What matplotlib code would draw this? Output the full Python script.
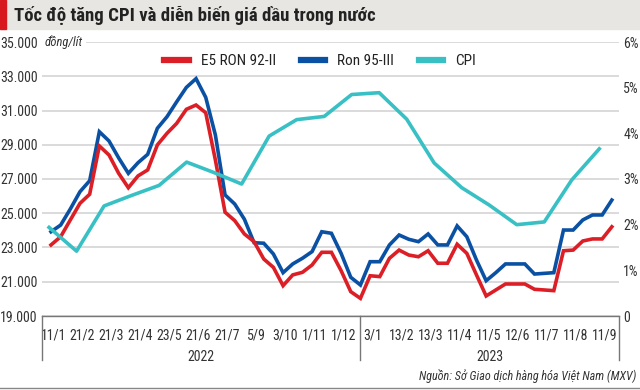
import matplotlib
matplotlib.use('Agg')
import matplotlib.pyplot as plt
from matplotlib import font_manager
from matplotlib.patches import Rectangle
import numpy as np

# tìm một font hẹp (condensed / narrow) nếu có
entries = font_manager.fontManager.ttflist
narrow = {}
for f in entries:
    st = str(f.stretch)
    if 'condensed' in st or 'Narrow' in f.name or 'Condensed' in f.name:
        narrow.setdefault(f.name, set()).add(st)
base, cond = None, False
for pref in ['Liberation Sans Narrow', 'Roboto Condensed', 'Open Sans Condensed',
             'Noto Sans', 'Open Sans', 'Roboto', 'DejaVu Sans Condensed', 'DejaVu Sans']:
    if pref in narrow:
        base = pref
        cond = any('condensed' in s for s in narrow[pref])
        break
if base is None and narrow:
    base = sorted(narrow)[0]
    cond = any('condensed' in s for s in narrow[base])
if base is None:
    base = 'Roboto'
    fs = 8.5
else:
    fs = 10
plt.rcParams['font.family'] = [base, 'DejaVu Sans']
if cond:
    plt.rcParams['font.stretch'] = 'condensed'

# dữ liệu
x_labels = ['11/1', '21/2', '21/3', '21/4', '23/5', '21/6', '21/7', '5/9', '3/10', '1/11',
            '1/12', '3/1', '13/2', '13/3', '11/4', '11/5', '12/6', '11/7', '11/8', '11/9']
years = ['2022', '2023']

ron95 = [23920, 24310, 25250, 26260, 26900, 29760, 29220, 28230, 27330, 27950,
         28440, 29960, 30640, 31510, 32350, 32860, 31770, 29570, 26070, 25540,
         24650, 23280, 23250, 22620, 21530, 22040, 22370, 22760, 23920, 23830,
         22660, 21260, 20810, 22170, 22170, 23150, 23730, 23480, 23340, 23790,
         23150, 23150, 24260, 23630, 22270, 21060, 21530, 22040, 22040, 22040,
         21450, 21490, 21530, 24020, 24020, 24610, 24900, 24900, 25770]
e5ron92 = [23150, 23630, 24610, 25580, 26110, 28930, 28400, 27330, 26490, 27180,
           27530, 28990, 29670, 30250, 31070, 31320, 30870, 28110, 25060, 24570,
           23790, 23340, 22330, 21840, 20770, 21400, 21550, 21980, 22720, 22720,
           21650, 20420, 20030, 21350, 21300, 22370, 22850, 22560, 22460, 22810,
           22080, 22080, 23190, 22660, 21400, 20170, 20520, 20870, 20870, 20870,
           20560, 20520, 20480, 22810, 22850, 23380, 23500, 23500, 24210]
cpi = [1.94, 1.42, 2.41, 2.64, 2.86, 3.37, 3.14, 2.89, 3.94, 4.30, 4.37,
       4.85, 4.89, 4.31, 3.35, 2.81, 2.43, 2.00, 2.06, 2.98, 3.66]

red = '#dc1f26'
blue = '#0b51a3'
cyan = '#38c0c4'
grey_txt = '#333333'

fig = plt.figure(figsize=(6.4, 3.9), dpi=100)
fig.patches.append(Rectangle((0, 1 - 29 / 390), 1, 29 / 390, transform=fig.transFigure,
                             color='#e8e6e3', zorder=0))
fig.patches.append(Rectangle((0, 1 - 29 / 390), 6 / 640, 29 / 390, transform=fig.transFigure,
                             color='#d7191f', zorder=1))
fig.text(14 / 640, 1 - 15 / 390, 'Tốc độ tăng CPI và diễn biến giá dầu trong nước',
         fontsize=fs + 3.5, fontweight='bold', va='center', ha='left', color='#222222')

ax = fig.add_axes([42 / 640, 1 - 316 / 390, 577 / 640, 274 / 390])
ax2 = ax.twinx()

xi = np.arange(len(ron95))
xc = np.linspace(-0.2, 56.7, len(cpi))

ax.plot(xi, ron95, color=blue, lw=2.6, label='Ron 95-III', solid_joinstyle='miter')
ax.plot(xi, e5ron92, color=red, lw=2.6, label='E5 RON 92-II', solid_joinstyle='miter')
ax2.plot(xc, cpi, color=cyan, lw=2.6, label='CPI')

ax.set_xlim(-0.93, 58.74)
ax.set_ylim(19000, 35000)
ax2.set_ylim(0, 6)

yt = np.arange(19000, 35001, 2000)
ax.set_yticks(yt)
ax.set_yticklabels([f'{v:,}'.replace(',', '.') for v in yt])
for v in yt:
    ax.axhline(v, color='#d4d4d4', lw=1.2, zorder=0)
ax.text(0.004, 35000, 'đồng/lít', transform=ax.get_yaxis_transform(), fontsize=fs - 1,
        style='italic', va='center', ha='left', color=grey_txt,
        bbox=dict(facecolor='white', edgecolor='none', pad=2.5))

ax2.set_yticks(range(7))
ax2.set_yticklabels(['0', '1%', '2%', '3%', '4%', '5%', '6%'])

ax.set_xticks(np.arange(len(x_labels)) * 3 + 0.25)
ax.set_xticklabels(x_labels)

for a in (ax, ax2):
    for s in ('top', 'left', 'right', 'bottom'):
        a.spines[s].set_visible(False)
    a.tick_params(length=0, labelsize=fs, colors=grey_txt)
ax.tick_params(axis='y', pad=3)
ax2.tick_params(axis='y', pad=3)
ax.tick_params(axis='x', pad=9)
ax.spines['bottom'].set_visible(True)
ax.spines['bottom'].set_color('#777777')
ax.spines['bottom'].set_linewidth(1)

# vạch ngăn năm
sep = 31.95
tr = ax.get_xaxis_transform()
for xv in (-0.93, sep, 58.74):
    ax.plot([xv, xv], [0, -0.16], transform=tr, color='#777777', lw=1, clip_on=False)
ax.text((-0.93 + sep) / 2, -0.15, years[0], transform=tr, ha='center', va='center',
        fontsize=fs, color=grey_txt)
ax.text((sep + 58.74) / 2, -0.15, years[1], transform=tr, ha='center', va='center',
        fontsize=fs, color=grey_txt)

h1, l1 = ax.get_legend_handles_labels()
h2, l2 = ax2.get_legend_handles_labels()
leg = ax.legend([h1[1], h1[0], h2[0]], [l1[1], l1[0], l2[0]], loc='center',
                bbox_to_anchor=(0.482, 0.93), ncol=3, frameon=False, fontsize=fs + 1,
                handlelength=1.6, handletextpad=0.8, columnspacing=1.6)
for ln in leg.get_lines():
    ln.set_linewidth(4.5)
for t in leg.get_texts():
    t.set_color('#222222')

fig.text(636 / 640, 1 - 376 / 390, 'Nguồn: Sở Giao dịch hàng hóa Việt Nam (MXV)',
         fontsize=fs - 1.3, style='italic', ha='right', va='center', color=grey_txt)
fig.add_artist(plt.Line2D([0, 1], [1 - 388 / 390] * 2, transform=fig.transFigure,
                          color='#888888', lw=1))

fig.savefig('out.png', dpi=100)
